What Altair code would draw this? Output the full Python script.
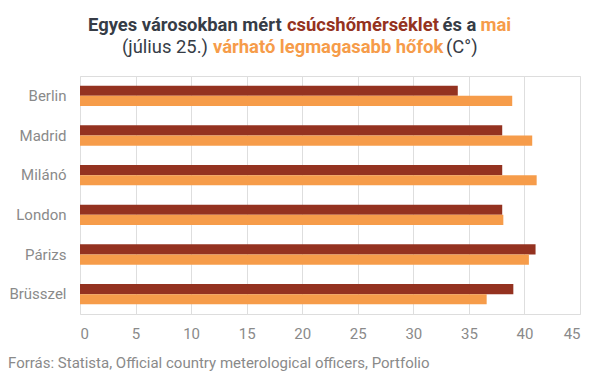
import altair as alt
import pandas as pd

cities = ["Berlin", "Madrid", "Milánó", "London", "Párizs", "Brüsszel"]
measured = [34.0, 38.0, 38.0, 38.0, 41.0, 39.0]
forecast = [38.9, 40.7, 41.1, 38.1, 40.4, 36.6]
series = ["csúcshőmérséklet", "várható legmagasabb hőfok"]
x_ticks = [0, 5, 10, 15, 20, 25, 30, 35, 40, 45]

DARK = "#943220"
ORANGE = "#f69c4a"
TITLE = "#363c46"
GRAY = "#8a8a8a"
FONT = "Roboto"

rows = []
for c, m, f in zip(cities, measured, forecast):
    rows.append({"city": c, "series": series[0], "value": m})
    rows.append({"city": c, "series": series[1], "value": f})
df = pd.DataFrame(rows)

bars = alt.Chart(df).mark_bar().encode(
    y=alt.Y("city:N", sort=cities, title=None,
            scale=alt.Scale(paddingInner=0.488, paddingOuter=0.244),
            axis=alt.Axis(domain=False, ticks=False, labelPadding=14,
                          labelFontSize=15, labelColor=GRAY, labelFont=FONT,
                          grid=False)),
    yOffset=alt.YOffset("series:N", sort=series),
    x=alt.X("value:Q", title=None,
            scale=alt.Scale(domain=[0, 45], nice=False),
            axis=alt.Axis(values=x_ticks, domain=False, ticks=False,
                          labelPadding=12, labelFontSize=15, labelColor=GRAY,
                          labelFont=FONT, grid=True, gridColor="#dedede")),
    color=alt.Color("series:N", sort=series,
                    scale=alt.Scale(domain=series, range=[DARK, ORANGE]),
                    legend=None),
)

title_parts = [
    ("Egyes városokban mért", 8, -45.5, TITLE, "bold"),
    ("csúcshőmérséklet", 207, -45.5, DARK, "bold"),
    ("és a", 362.5, -45.5, TITLE, "bold"),
    ("mai", 400.5, -45.5, ORANGE, "bold"),
    ("(július 25.)", 42, -23.5, TITLE, "normal"),
    ("várható legmagasabb hőfok", 133, -23.5, ORANGE, "bold"),
    ("(C°)", 366, -23.5, TITLE, "normal"),
]

layers = [bars]
for txt, xx, yy, col, wt in title_parts:
    layers.append(
        alt.Chart(pd.DataFrame({"t": [txt]})).mark_text(
            align="left", baseline="alphabetic", font=FONT,
            fontSize=18.4, fontWeight=wt, color=col,
        ).encode(text="t:N", x=alt.value(xx), y=alt.value(yy))
    )

layers.append(
    alt.Chart(pd.DataFrame({"t": ["Forrás: Statista, Official country meterological officers, Portfolio"]})).mark_text(
        align="left", baseline="alphabetic", font=FONT, fontSize=15, color=GRAY,
    ).encode(text="t:N", x=alt.value(-72), y=alt.value(292))
)

chart = alt.layer(*layers).properties(
    width=500, height=238,
    padding={"left": 72, "top": 68, "right": 16, "bottom": 57},
    autosize=alt.AutoSizeParams(type="none"),
).configure_view(stroke=None).configure(background="white")

chart.save("out.html", embed_options={"renderer": "svg", "actions": False})
